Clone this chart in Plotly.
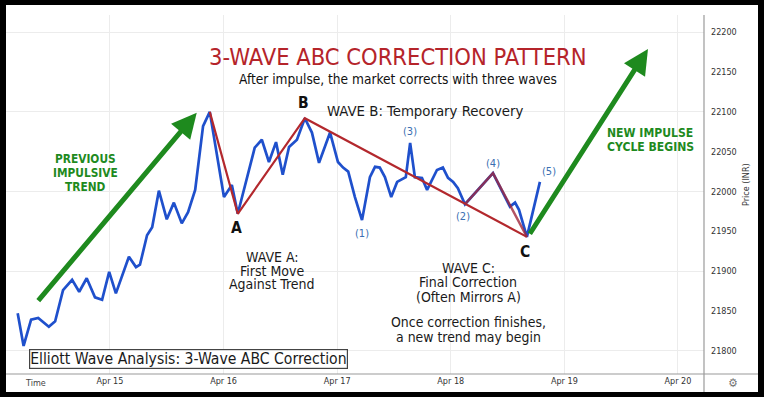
import plotly.graph_objects as go

# ---------------- data ----------------
times = [
    "2024-04-14 04:30", "2024-04-14 05:45", "2024-04-14 07:20", "2024-04-14 08:50", "2024-04-14 11:05",
    "2024-04-14 12:25", "2024-04-14 14:05", "2024-04-14 16:00", "2024-04-14 17:30", "2024-04-14 19:05",
    "2024-04-14 20:50", "2024-04-14 22:20", "2024-04-14 23:50",
    "2024-04-15 01:15", "2024-04-15 04:00", "2024-04-15 05:30", "2024-04-15 06:20", "2024-04-15 07:50",
    "2024-04-15 08:55", "2024-04-15 10:20", "2024-04-15 12:00", "2024-04-15 13:30", "2024-04-15 15:10",
    "2024-04-15 16:30", "2024-04-15 18:00", "2024-04-15 19:40", "2024-04-15 21:05",
    "2024-04-16 00:05", "2024-04-16 01:45", "2024-04-16 03:00", "2024-04-16 06:35", "2024-04-16 08:05",
    "2024-04-16 09:35", "2024-04-16 11:05", "2024-04-16 12:30", "2024-04-16 13:50", "2024-04-16 15:30",
    "2024-04-16 17:10", "2024-04-16 18:40", "2024-04-16 20:10", "2024-04-16 22:30",
    "2024-04-17 00:10", "2024-04-17 01:15", "2024-04-17 02:20", "2024-04-17 03:45", "2024-04-17 05:15",
    "2024-04-17 06:55", "2024-04-17 08:00", "2024-04-17 09:00", "2024-04-17 10:05", "2024-04-17 11:25",
    "2024-04-17 12:40", "2024-04-17 14:30", "2024-04-17 15:25", "2024-04-17 16:25", "2024-04-17 17:55",
    "2024-04-17 19:00", "2024-04-17 20:00", "2024-04-17 21:05", "2024-04-17 22:20", "2024-04-17 23:25",
    "2024-04-18 00:30", "2024-04-18 01:30", "2024-04-18 03:00", "2024-04-18 08:55", "2024-04-18 12:30",
    "2024-04-18 13:35", "2024-04-18 14:25", "2024-04-18 16:05", "2024-04-18 18:50",
]
prices = [
    21847, 21806, 21839, 21841, 21830, 21837, 21876, 21889, 21874, 21891, 21867, 21864, 21899,
    21872, 21918, 21905, 21908, 21945, 21955, 22001, 21965, 21986, 21960, 21974, 22002, 22082, 22100,
    21993, 22008, 21972, 22055, 22065, 22037, 22062, 22021, 22056, 22065, 22092, 22074, 22036, 22074,
    22037, 22030, 22025, 21993, 21964, 22018, 22031, 22030, 22018, 21993, 22012, 22018, 22061, 22018,
    22017, 22002, 22014, 22027, 22030, 22017,
    22012, 22004, 21984, 22023, 21981, 21986, 21977, 21943, 22012,
]

# ABC pivots (index into the price series)
abc_names = ["start", "A", "B", "C"]
abc_index = [26, 29, 37, 68]
# sub-wave of C: (2) -> (4) -> C
sub_index = [63, 64, 68]
# minor wave labels
wave_names = ["(1)", "(2)", "(3)", "(4)", "(5)"]
wave_index = [45, 63, 53, 64, 69]
wave_shift = [(0, -13), (-2, -12), (0, 11), (0, 10), (9, 10)]

# trend arrows (tail -> head)
prev_arrow_tail = ("2024-04-14 08:35", 21861)
prev_arrow_head = ("2024-04-15 18:20", 22099)
new_arrow_tail = ("2024-04-18 16:30", 21945)
new_arrow_head = ("2024-04-19 17:40", 22179)

x_range = ["2024-04-14 02:02", "2024-04-20 05:30"]
y_range = [21770.7, 22221.7]
y_ticks = [21800, 21850, 21900, 21950, 22000, 22050, 22100, 22150, 22200]
y_grid = [21800, 21900, 22000, 22100, 22200]

BLUE = "#1f50cc"
RED = "#b5242a"
GREEN = "#1e8a1e"
LBLUE = "#3b6fb2"
FONT = "DejaVu Sans Condensed, DejaVu Sans"

fig = go.Figure()

fig.add_trace(go.Scatter(x=times, y=prices, mode="lines",
                         line=dict(color=BLUE, width=2.7), hoverinfo="skip"))
fig.add_trace(go.Scatter(x=[times[i] for i in abc_index], y=[prices[i] for i in abc_index],
                         mode="lines", line=dict(color="#b3282d", width=2.2), hoverinfo="skip"))
fig.add_trace(go.Scatter(x=[times[i] for i in sub_index], y=[prices[i] for i in sub_index],
                         mode="lines", line=dict(color="rgba(160,40,60,0.8)", width=2.4), hoverinfo="skip"))

ann = []
for tail, head in [(prev_arrow_tail, prev_arrow_head), (new_arrow_tail, new_arrow_head)]:
    ann.append(dict(x=head[0], y=head[1], ax=tail[0], ay=tail[1], xref="x", yref="y",
                    axref="x", ayref="y", text="", showarrow=True, arrowhead=2,
                    arrowsize=1.0, arrowwidth=5, arrowcolor=GREEN))

abc_shift = {"A": -14, "B": 15, "C": -15}
for n, i in zip(abc_names, abc_index):
    if n in abc_shift:
        ann.append(dict(x=times[i], y=prices[i], xref="x", yref="y", text="<b>%s</b>" % n,
                        showarrow=False, yshift=abc_shift[n], xshift=(-2 if n == "C" else -1),
                        font=dict(family=FONT, size=15.5, color="#111")))
for n, i, (dx, dy) in zip(wave_names, wave_index, wave_shift):
    ann.append(dict(x=times[i], y=prices[i], xref="x", yref="y", text=n, showarrow=False,
                    xshift=dx, yshift=dy, font=dict(family=FONT, size=11, color=LBLUE)))


def P(px, py):
    return (px - 6) / 698.0, (374 - py) / 359.0


def text(px, py, t, size, color="#1a1a1a", xanchor="center", family=FONT, **kw):
    x, y = P(px, py)
    d = dict(x=x, y=y, xref="paper", yref="paper", text=t, showarrow=False,
             xanchor=xanchor, yanchor="middle", font=dict(family=family, size=size, color=color))
    d.update(kw)
    ann.append(d)


def lines(px, ys, texts, size, **kw):
    for py, t in zip(ys, texts):
        text(px, py, t, size, **kw)


text(398, 57, "3-WAVE ABC CORRECTION PATTERN", 23.5, color=RED)
text(398, 78.5, "After impulse, the market corrects with three waves", 13.6, color="#111")
text(325, 110, "WAVE B: Temporary Recovery", 14.8, xanchor="left")
lines(272, [257, 270.5, 284], ["WAVE A:", "First Move", "Against Trend"], 14)
lines(468, [268, 282, 296.5], ["WAVE C:", "Final Correction", "(Often Mirrors A)"], 14)
lines(468, [322, 337], ["Once correction finishes,", "a new trend may begin"], 13.9)
lines(85, [159, 173, 186.5], ["<b>PREVIOUS</b>", "<b>IMPULSIVE</b>", "<b>TREND</b>"], 11.8, color=GREEN)
lines(650, [133, 147], ["<b>NEW IMPULSE</b>", "<b>CYCLE BEGINS</b>"], 12.1, color=GREEN)
text(189, 359, "Elliott Wave Analysis: 3-Wave ABC Correction", 15.6,
     bgcolor="white", bordercolor="#444", borderwidth=1.2, borderpad=0)
text(746, 185, "Price (INR)", 9, color="#333", textangle=-90)
text(35, 383, "Time", 9, color="#444")
text(733, 383, "⚙", 12, color="#777")

shapes = [
    dict(type="rect", xref="paper", yref="paper", x0=0, x1=(758 - 6) / 698.0,
         y0=(374 - 392) / 359.0, y1=(374 - 5) / 359.0, fillcolor="white",
         line=dict(width=0), layer="below"),
    dict(type="line", xref="paper", yref="paper", x0=0, x1=(758 - 6) / 698.0, y0=0, y1=0,
         line=dict(color="#9a9a9a", width=1.2)),
    dict(type="line", xref="paper", yref="paper", x0=1, x1=1, y0=(374 - 392) / 359.0, y1=1,
         line=dict(color="#9a9a9a", width=1.2)),
]

fig.update_layout(
    width=764, height=397,
    margin=dict(l=6, r=60, t=15, b=23),
    paper_bgcolor="black", plot_bgcolor="white",
    showlegend=False,
    annotations=ann, shapes=shapes,
    xaxis=dict(type="date", range=x_range, tick0="2024-04-15", dtick=86400000,
               tickformat="%b %d", showgrid=True, gridcolor="#ececec", gridwidth=1,
               zeroline=False, showline=False, ticks="",
               tickfont=dict(family=FONT, size=9, color="#333")),
    yaxis=dict(side="right", range=y_range, tickvals=y_ticks, tickformat="d", showgrid=False,
               zeroline=False, showline=False, ticks="", ticklabelstandoff=6,
               tickfont=dict(family=FONT, size=9, color="#333"),
               minor=dict(tickvals=y_grid, showgrid=True, gridcolor="#ececec", ticks="")),
)

fig.write_html("out.html", config={"displayModeBar": False},
               post_script="document.body.style.margin='0';document.body.style.overflow='hidden';")
